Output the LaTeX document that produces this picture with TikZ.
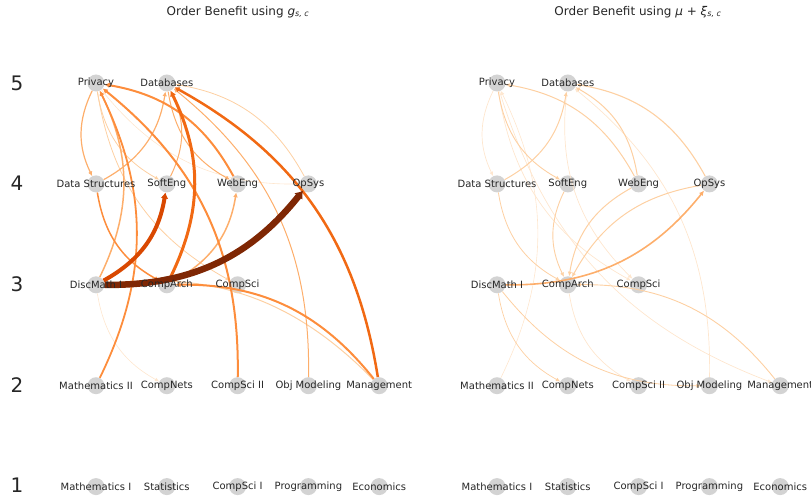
\documentclass[tikz,border=0pt]{standalone}
\usepackage{fontspec}
\setmainfont{DejaVu Sans}
\usepackage{tikz}
\usetikzlibrary{arrows.meta}
\definecolor{OrangeBrown}{HTML}{7F2704}
\definecolor{OrangeDeep}{HTML}{D94801}
\definecolor{OrangeStrong}{HTML}{F16913}
\definecolor{OrangeMid}{HTML}{FD8D3C}
\definecolor{OrangeSoft}{HTML}{FDAE6B}
\definecolor{OrangePale}{HTML}{FDD0A2}
\definecolor{OrangeFaint}{HTML}{FEE6CE}
\definecolor{NodeGray}{HTML}{D3D3D3}
\tikzset{
  course/.style={circle,fill=NodeGray,minimum size=17pt,inner sep=0pt},
  coursename/.style={font=\fontsize{10}{12}\selectfont,text=black!85,inner sep=0pt},
  rownum/.style={font=\fontsize{20}{24}\selectfont,text=black!85,inner sep=0pt},
  plottitle/.style={font=\fontsize{12}{14}\selectfont,text=black!85,inner sep=0pt},
  pre/.style={-{Latex[length=4pt 0.5,width=3pt 1.2]},bend right=26},
}
\newcommand\courses{prv/1/5/Privacy, dbs/2/5/Databases,
  dst/1/4/Data Structures, swe/2/4/SoftEng, web/3/4/WebEng, ops/4/4/OpSys,
  dm1/1/3/DiscMath I, car/2/3/CompArch, csc/3/3/CompSci,
  ma2/1/2/Mathematics II, net/2/2/CompNets, cs2/3/2/CompSci II, obj/4/2/Obj Modeling, mgt/5/2/Management,
  ma1/1/1/Mathematics I, sta/2/1/Statistics, cs1/3/1/CompSci I, prg/4/1/Programming, eco/5/1/Economics}

\begin{document}
\begin{tikzpicture}[x=1pt,y=-1pt]
  \useasboundingbox (0,0) rectangle (811,497);
  \foreach \r in {1,...,5}
    \node[rownum] (row\r) at (17,{83+100.6*(5-\r)}) {\r};
  \node[plottitle] (ttlL) at (238,12) {Order Benefit using \textit{g}\textsubscript{\textit{s, c}}};
  \node[plottitle] (ttlR) at (638,12) {Order Benefit using \textit{μ} + \textit{ξ}\textsubscript{\textit{s, c}}};
  \foreach \p/\dx in {L/0,R/401}
    \foreach \n/\c/\r/\txt in \courses
      \node[course] (\p\n) at ({\dx+96+70.8*(\c-1)},{83+100.9*(5-\r)}) {};
  % left panel
  \foreach \s/\e/\col/\w in {dm1/net/OrangeFaint/0.6, prv/ops/OrangeFaint/0.6,
      prv/csc/OrangePale/0.8, prv/swe/OrangePale/0.8, ops/dbs/OrangePale/0.8,
      mgt/dm1/OrangePale/1, obj/dbs/OrangeSoft/1, dbs/web/OrangeSoft/1, swe/dbs/OrangeSoft/1,
      prv/dst/OrangeSoft/1.2, dst/dbs/OrangeSoft/1.2, dm1/prv/OrangeSoft/1.5, car/web/OrangeSoft/1.5,
      dst/car/OrangeMid/1.5, ma2/prv/OrangeMid/1.8, mgt/car/OrangeMid/2, cs2/prv/OrangeMid/2,
      web/prv/OrangeMid/2, mgt/dbs/OrangeStrong/2.5, car/dbs/OrangeStrong/3,
      dm1/swe/OrangeDeep/4, dm1/ops/OrangeBrown/6.5}
    \draw[pre,draw=\col,line width=\w pt] (L\s) to (L\e);
  % right panel
  \foreach \s/\e/\col/\w in {prv/dst/OrangeFaint/0.7, ma2/prv/OrangeFaint/0.6,
      prv/csc/OrangeFaint/0.7, dbs/csc/OrangeFaint/0.7, car/cs2/OrangeFaint/0.7,
      prv/mgt/OrangeFaint/0.7, obj/dbs/OrangeFaint/0.7, dst/car/OrangePale/0.8,
      dm1/net/OrangePale/0.7, dm1/obj/OrangePale/0.8, mgt/car/OrangePale/0.9,
      prv/swe/OrangePale/0.9, swe/car/OrangePale/0.9, web/car/OrangePale/1,
      ops/car/OrangePale/1, dst/dbs/OrangePale/1, web/prv/OrangePale/1,
      web/dbs/OrangePale/1, ops/dbs/OrangePale/1.1, dm1/ops/OrangeSoft/1.6}
    \draw[pre,draw=\col,line width=\w pt] (R\s) to (R\e);
  \foreach \p in {L,R}
    \foreach \n/\c/\r/\txt in \courses
      \node[coursename] (\p\n-t) at (\p\n) {\txt};
\end{tikzpicture}
\end{document}
